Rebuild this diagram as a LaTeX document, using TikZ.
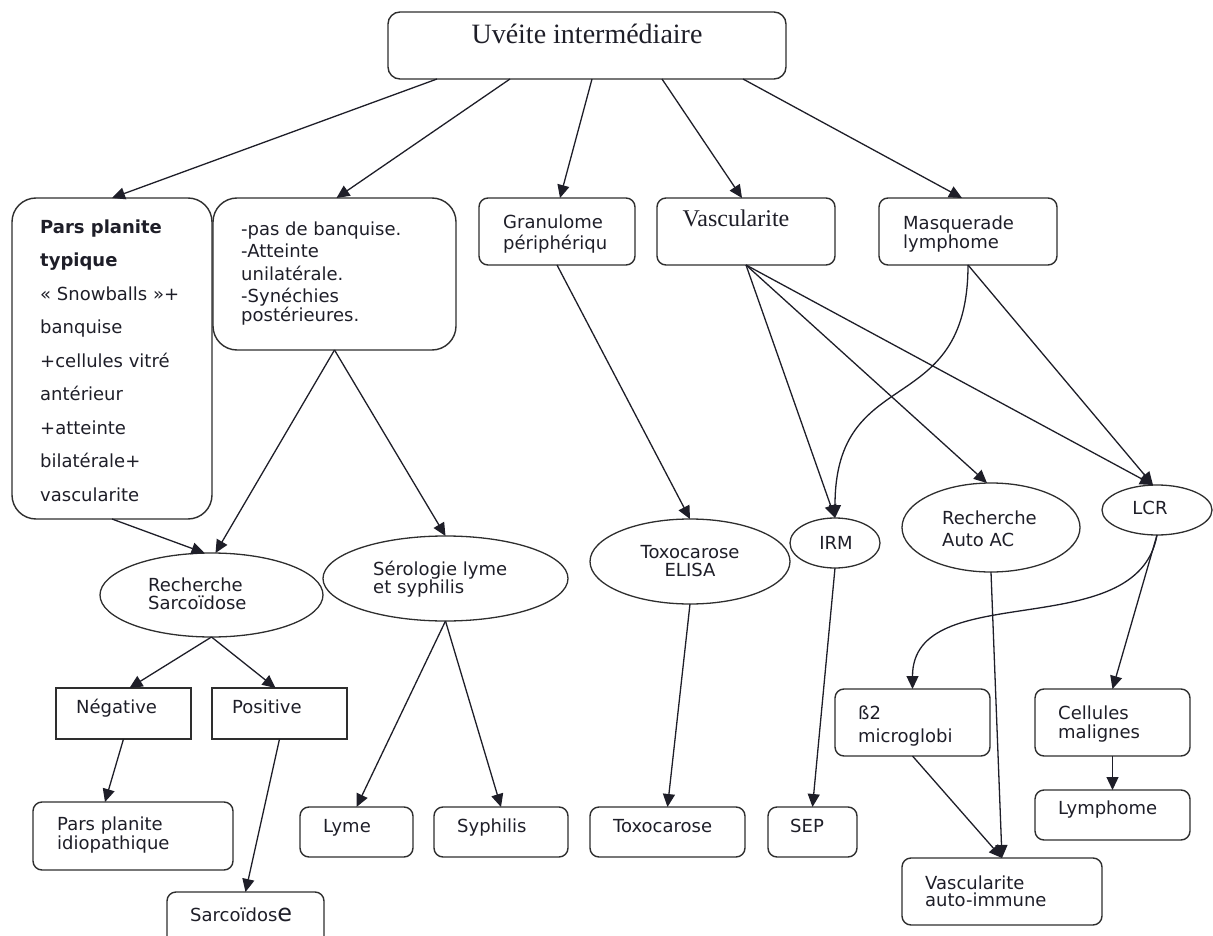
\documentclass[tikz,border=0pt]{standalone}
\usepackage{fontspec}
\setmainfont{Liberation Serif}
\setsansfont{DejaVu Sans}
\usetikzlibrary{shapes.geometric,arrows.meta}
\definecolor{ink}{HTML}{1E1E28}
\definecolor{edge}{HTML}{2E2E2E}
\tikzset{
  box/.style={draw=edge, line width=1.4pt, rounded corners=9pt, inner sep=0pt, outer sep=0pt},
  bigbox/.style={box, rounded corners=24pt},
  sbox/.style={draw=edge, line width=1.4pt, inner sep=0pt, outer sep=0pt},
  ell/.style={draw=edge, line width=1.3pt, ellipse, inner sep=0pt, outer sep=0pt},
  txt/.style={font=\sffamily\fontsize{18}{19}\selectfont, text=ink, inner sep=0pt, align=left, anchor=base west},
  serif/.style={font=\rmfamily, text=ink, inner sep=0pt, anchor=base},
  arr/.style={-{Triangle[length=13pt,width=12pt]}, line width=1.3pt, draw=ink},
}
\begin{document}
\begin{tikzpicture}[x=1pt,y=-1pt]
\useasboundingbox (0,0) rectangle (1213,936);
% ---- boxes
\node[box, rounded corners=12pt, minimum width=398pt, minimum height=67pt] (top) at (587,45.5) {};
\node[bigbox, minimum width=200pt, minimum height=321pt] (pars) at (112,358.5) {};
\node[bigbox, minimum width=243pt, minimum height=152pt] (nob) at (334.5,274) {};
\node[box, minimum width=156pt, minimum height=67pt] (gran) at (557,231.5) {};
\node[box, minimum width=178pt, minimum height=67pt] (vasc) at (746,231.5) {};
\node[box, minimum width=178pt, minimum height=67pt] (masq) at (968,231.5) {};
\node[ell, minimum width=223pt, minimum height=84pt] (rs) at (211.5,595) {};
\node[ell, minimum width=245pt, minimum height=85pt] (sero) at (445.5,578.5) {};
\node[ell, minimum width=200pt, minimum height=85pt] (elisa) at (690,561.5) {};
\node[ell, minimum width=90pt, minimum height=50pt] (irm) at (835,543) {};
\node[ell, minimum width=178pt, minimum height=89pt] (raa) at (991,527.5) {};
\node[ell, minimum width=110pt, minimum height=50pt] (lcr) at (1157,510) {};
\node[sbox, minimum width=135pt, minimum height=51pt] (neg) at (123.5,713.5) {};
\node[sbox, minimum width=135pt, minimum height=51pt] (pos) at (279.5,713.5) {};
\node[box, minimum width=200pt, minimum height=68pt] (ppi) at (133,836) {};
\node[box, minimum width=157pt, minimum height=53pt] (sarc) at (245.5,918.5) {};
\node[box, minimum width=113pt, minimum height=50pt] (lyme) at (356.5,832) {};
\node[box, minimum width=134pt, minimum height=50pt] (syph) at (501,832) {};
\node[box, minimum width=155pt, minimum height=50pt] (toxo) at (667.5,832) {};
\node[box, minimum width=89pt, minimum height=50pt] (sep) at (812.5,832) {};
\node[box, minimum width=155pt, minimum height=67pt] (b2) at (912.5,722.5) {};
\node[box, minimum width=155pt, minimum height=67pt] (cell) at (1112.5,722.5) {};
\node[box, minimum width=155pt, minimum height=50pt] (lymph) at (1112.5,815) {};
\node[box, minimum width=200pt, minimum height=67pt] (vai) at (1002,891.5) {};
% ---- texts (anchor = baseline of the last line)
\node[serif, font=\rmfamily\fontsize{28}{30}\selectfont] (ttop) at (587,44) {Uvéite intermédiaire};
\node[txt, font=\sffamily\fontsize{18}{33.5}\selectfont] (tpars) at (40,501)
  {\textbf{Pars planite}\\ \textbf{typique}\\ « Snowballs »+\\ banquise\\ +cellules vitré\\ antérieur\\ +atteinte\\ bilatérale+\\ vascularite};
\node[txt, font=\sffamily\fontsize{18}{22.5}\selectfont] (tnob) at (241,321)
  {-pas de banquise.\\ -Atteinte\\ unilatérale.\\ -Synéchies\\[-4pt] postérieures.};
\node[txt, font=\sffamily\fontsize{18}{21}\selectfont] (tgran) at (503,250) {Granulome\\ périphériqu};
\node[serif, font=\rmfamily\fontsize{24}{26}\selectfont] (tvasc) at (736,226) {Vascularite};
\node[txt] (tmasq) at (903,248) {Masquerade\\ lymphome};
\node[txt, font=\sffamily\fontsize{18}{17.5}\selectfont] (trs) at (148,609) {Recherche\\ Sarcoïdose};
\node[txt, font=\sffamily\fontsize{18}{18}\selectfont] (tsero) at (373,593) {Sérologie lyme\\ et syphilis};
\node[txt, align=center, anchor=base, font=\sffamily\fontsize{18}{18}\selectfont] (telisa) at (690,576) {Toxocarose\\ ELISA};
\node[txt, anchor=base] (tirm) at (836,549) {IRM};
\node[txt, font=\sffamily\fontsize{18}{22}\selectfont] (traa) at (942,546) {Recherche\\ Auto AC};
\node[txt, anchor=base] (tlcr) at (1150,514) {LCR};
\node[txt] (tneg) at (76,713) {Négative};
\node[txt] (tpos) at (232,713) {Positive};
\node[txt, font=\sffamily\fontsize{18}{17}\selectfont] (tppi) at (57,849) {Pars planite\\ idiopathique};
\node[txt] (tsarc) at (190,921) {Sarcoïdos{\fontsize{24}{24}\selectfont e}};
\node[txt] (tlyme) at (323,832) {Lyme};
\node[txt] (tsyph) at (457,832) {Syphilis};
\node[txt] (ttoxo) at (613,832) {Toxocarose};
\node[txt] (tsep) at (790,832) {SEP};
\node[txt, font=\sffamily\fontsize{18}{23}\selectfont] (tb2) at (858,742) {ß2\\ microglobi};
\node[txt] (tcell) at (1058,738) {Cellules\\ malignes};
\node[txt] (tlymph) at (1058,814) {Lymphome};
\node[txt, font=\sffamily\fontsize{18}{17}\selectfont] (tvai) at (925,906) {Vascularite\\ auto-immune};
% ---- connectors
\draw[arr] ([xshift=-150pt]top.south) -- (pars.north);
\draw[arr] ([xshift=-77pt]top.south) -- ([xshift=2pt]nob.north);
\draw[arr] ([xshift=5pt]top.south) -- ([xshift=3pt]gran.north);
\draw[arr] ([xshift=75pt]top.south) -- ([xshift=-4pt]vasc.north);
\draw[arr] ([xshift=156pt]top.south) -- ([xshift=-6pt]masq.north);
\draw[arr] (pars.south) -- ([xshift=-7pt]rs.north);
\draw[arr] (nob.south) -- ([xshift=4pt]rs.north);
\draw[arr] (nob.south) -- (sero.north);
\draw[arr] (rs.south) -- ([xshift=6pt]neg.north);
\draw[arr] (rs.south) -- ([xshift=-4pt]pos.north);
\draw[arr] (neg.south) -- ([xshift=-28pt]ppi.north);
\draw[arr] (pos.south) -- (sarc.north);
\draw[arr] (sero.south) -- (lyme.north);
\draw[arr] (sero.south) -- (syph.north);
\draw[arr] (gran.south) -- (elisa.north);
\draw[arr] (elisa.south) -- (toxo.north);
\draw[arr] (vasc.south) -- (irm.north);
\draw[arr] (vasc.south) -- ([xshift=-4pt]raa.north);
\draw[arr] (vasc.south) -- ([xshift=-4pt]lcr.north);
\draw[arr] (masq.south) to[out=-90,in=90,looseness=1.4] (irm.north);
\draw[arr] (masq.south) -- ([xshift=-4pt]lcr.north);
\draw[arr] (irm.south) -- (sep.north);
\draw[arr] (raa.south) -- (vai.north);
\draw[arr] (b2.south) -- (vai.north);
\draw[arr] (lcr.south) to[out=-100,in=90] (b2.north);
\draw[arr] (lcr.south) -- (cell.north);
\draw[arr] (cell.south) -- (lymph.north);
\end{tikzpicture}
\end{document}
